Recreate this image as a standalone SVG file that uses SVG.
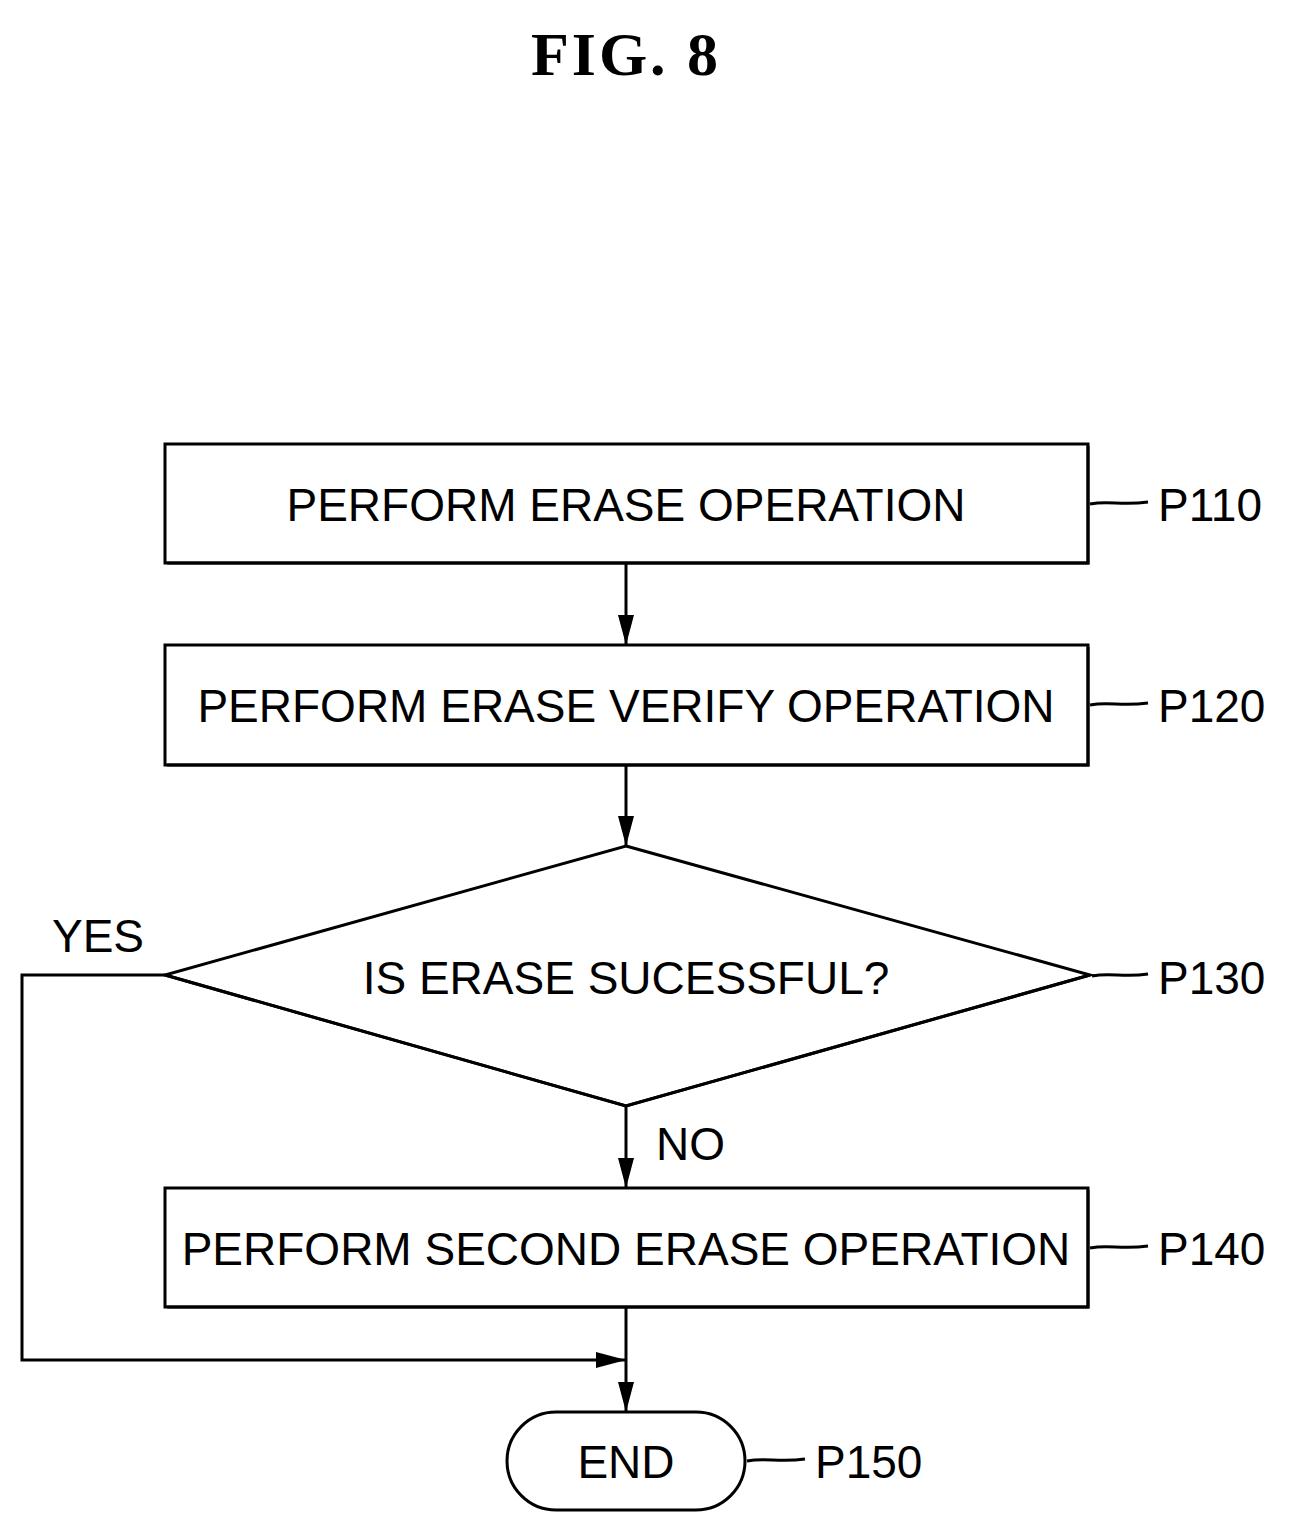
<svg xmlns="http://www.w3.org/2000/svg" width="1289" height="1533" viewBox="0 0 1289 1533">
<style>
.t{font-family:"Liberation Sans",Arial,sans-serif;font-size:46px;fill:#000}
.b{fill:#fff;stroke:#000;stroke-width:3}
.l{fill:none;stroke:#000;stroke-width:3}
</style>
<defs><marker id="a" markerWidth="30" markerHeight="18" refX="29" refY="9" orient="auto" markerUnits="userSpaceOnUse"><path d="M0,1 L30,9 L0,17 Z" fill="#000"/></marker></defs>
<rect width="1289" height="1533" fill="#fff"/>
<text x="626" y="75" text-anchor="middle" font-family="Liberation Serif,serif" font-weight="bold" font-size="62" letter-spacing="3">FIG.  8</text>
<g id="connectors">
<path class="l" d="M626,563 V644" marker-end="url(#a)"/>
<path class="l" d="M626,765 V845" marker-end="url(#a)"/>
<path class="l" d="M626,1106 V1187" marker-end="url(#a)"/>
<path class="l" d="M626,1307 V1411" marker-end="url(#a)"/>
<path class="l" d="M165,975 H22 V1360 H625" marker-end="url(#a)"/>
<text class="t" x="52" y="952" font-size="42">YES</text>
<text class="t" x="656" y="1160" font-size="42">NO</text>
</g>
<g id="P110"><rect class="b" x="165" y="444" width="923" height="119"/><path class="l" stroke-width="5" d="M167,563 H1088 V446"/><text class="t" x="626" y="521" text-anchor="middle">PERFORM ERASE OPERATION</text>
<path class="l" d="M1090,504 C1110,500 1120,506 1148,502"/><text class="t" x="1158" y="521">P110</text></g>
<g id="P120"><rect class="b" x="165" y="645" width="923" height="120"/><path class="l" stroke-width="5" d="M167,765 H1088 V647"/><text class="t" x="626" y="722" text-anchor="middle">PERFORM ERASE VERIFY OPERATION</text>
<path class="l" d="M1090,705 C1110,701 1120,707 1148,703"/><text class="t" x="1158" y="722">P120</text></g>
<g id="P130"><path class="b" d="M626,846 L1090,975 L626,1106 L165,975 Z"/><path class="l" stroke-width="6" d="M165,975 L626,1106 L1090,975"/><text class="t" x="626" y="994" text-anchor="middle">IS ERASE SUCESSFUL?</text>
<path class="l" d="M1092,976 C1112,972 1122,978 1148,974"/><text class="t" x="1158" y="994">P130</text></g>
<g id="P140"><rect class="b" x="165" y="1188" width="923" height="119"/><path class="l" stroke-width="5" d="M167,1307 H1088 V1190"/><text class="t" x="626" y="1265" text-anchor="middle">PERFORM SECOND ERASE OPERATION</text>
<path class="l" d="M1090,1248 C1110,1244 1120,1250 1148,1246"/><text class="t" x="1158" y="1265">P140</text></g>
<g id="P150"><rect class="b" x="507" y="1412" width="238" height="98" rx="49"/><text class="t" x="626" y="1478" text-anchor="middle">END</text>
<path class="l" d="M747,1461 C767,1457 777,1463 805,1459"/><text class="t" x="815" y="1478">P150</text></g>
</svg>
